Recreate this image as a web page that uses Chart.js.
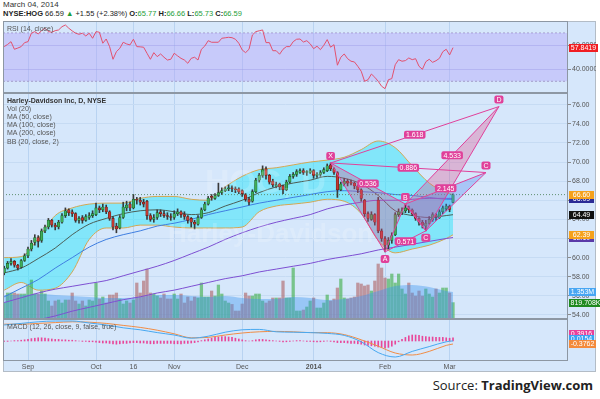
<!DOCTYPE html>
<html>
<head>
<meta charset="utf-8">
<title>HOG daily</title>
<script src="https://cdn.jsdelivr.net/npm/chart.js@4.4.1/dist/chart.umd.min.js"></script>
<style>
  html, body { margin: 0; padding: 0; }
  body { width: 600px; height: 399px; position: relative; overflow: hidden; background: #fff;
         font-family: "Liberation Sans", Arial, sans-serif; }
  .t { position: absolute; white-space: nowrap; line-height: 1; }
  #frame { position: absolute; left: 3px; top: 21px; width: 593px; height: 351px;
           background: #d6e7fb; border: 1px solid #b3bcc6; box-sizing: border-box; }
  canvas { position: absolute; left: 0; }
  .lg { font-size: 7px; color: #555; left: 7px; }
  .wm { color: rgba(255,255,255,0.18); font-weight: bold; }
  .up { color: #1f9e3a; }
</style>
</head>
<body>
<div class="t" style="left:3px;top:1px;font-size:8px;color:#333">March 04, 2014</div>
<div class="t" style="left:3px;top:10px;font-size:7.5px;color:#222"><b>NYSE:HOG</b> 66.59 <span class="up">&#9650;</span> +1.55 (+2.38%) <b>O:</b><span class="up">65.77</span> <b>H:</b><span class="up">66.66</span> <b>L:</b><span class="up">65.73</span> <b>C:</b><span class="up">66.59</span></div>
<div id="frame"></div>
<canvas id="rsi" width="600" height="72" style="top:21px;width:600px;height:72px"></canvas>
<canvas id="price" width="600" height="226" style="top:93px;width:600px;height:226px"></canvas>
<canvas id="macd" width="600" height="53" style="top:319px;width:600px;height:53px"></canvas>
<div class="t wm" style="left:205px;top:164px;font-size:34px">HOG, D</div>
<div class="t wm" style="left:168px;top:220px;font-size:26px">Harley-Davidson</div>
<div class="t lg" style="top:25px">RSI (14, close)</div>
<div class="t lg" style="top:97px;color:#333;font-weight:bold">Harley-Davidson Inc, D, NYSE</div>
<div class="t lg" style="top:105px">Vol (20)</div>
<div class="t lg" style="top:113px">MA (50, close)</div>
<div class="t lg" style="top:121px">MA (100, close)</div>
<div class="t lg" style="top:129px">MA (200, close)</div>
<div class="t lg" style="top:138px">BB (20, close, 2)</div>
<div class="t lg" style="top:323px">MACD (12, 26, close, 9, false, true)</div>
<div class="t" style="right:7px;top:379px;font-size:13px;color:#222;font-family:'Open Sans',sans-serif">Source: <b>TradingView.com</b></div>

<script>
// time axis: x = trading day index, 0 = Aug 22 2013, 132 = Mar 04 2014
const tickIdx  = [7, 27, 38, 50, 70, 91, 112, 131];
const tickText = ['Sep', 'Oct', '16', 'Nov', 'Dec', '2014', 'Feb', 'Mar'];

const openP = [58.4,58.9,59.4,59.6,59.2,59.0,59.7,60.2,60.9,61.6, 62.1,61.8,62.8,63.2,63.9,63.4,63.2,63.7,64.4,65.0,
  64.8,64.6,63.9,64.2,63.9,64.2,64.4,64.5,65.2,65.0, 65.3,64.8,64.1,63.3,63.1,64.2,65.2,65.6,65.2,66.1,
  66.0,65.8,65.9,64.4,64.0,64.2,64.8,64.6,64.4,64.3, 64.2,64.6,64.8,64.5,64.3,64.1,63.7,63.5,64.2,65.0,
  65.6,66.4,66.2,66.5,66.8,67.0,67.2,67.3,67.2,67.2, 67.0,66.6,66.1,65.9,66.9,68.1,68.6,69.3,68.6,68.0,
  67.5,67.7,67.5,67.1,67.9,68.5,68.7,68.9,69.1,68.9, 68.9,69.1,68.6,68.7,68.9,69.1,69.7,69.3,68.9,67.1,
  67.7,68.0,67.9,67.8,67.5,67.1,66.0,64.6,64.0,64.5, 66.0,62.8,62.0,61.3,61.8,62.4,64.5,64.7,64.9,65.2,
  65.0,64.6,64.1,63.7,63.3,63.6,64.0,64.5,64.2,64.8, 65.1,65.4,65.77];
const highP = [59.1,59.6,59.9,59.7,59.3,59.8,60.4,61.1,61.8,62.4, 62.3,63.0,63.4,64.1,64.0,63.6,63.9,64.6,65.2,65.1,
  65.0,64.7,64.3,64.4,64.5,64.7,64.9,65.7,65.4,65.6, 65.5,64.9,64.3,63.6,64.4,65.8,65.9,65.8,66.6,66.3,
  66.3,66.1,66.0,64.6,64.5,65.0,65.0,64.9,64.7,64.6, 64.9,65.1,64.9,64.8,64.4,64.2,63.9,64.4,65.2,65.8,
  66.4,66.6,66.7,67.8,67.3,67.4,67.6,67.5,67.4,67.3, 67.1,66.7,66.3,67.1,68.3,68.8,69.6,69.5,68.7,68.2,
  67.9,67.8,67.6,68.1,68.7,68.9,69.2,69.3,69.3,69.1, 69.3,69.2,68.9,69.1,69.4,69.8,69.9,69.4,69.0,67.9,
  68.3,68.2,68.1,67.9,67.6,67.2,66.1,64.8,64.8,64.6, 66.3,63.0,62.2,62.1,62.6,64.7,65.1,65.2,65.6,65.4,
  65.1,64.7,64.2,63.9,63.9,64.3,64.7,64.6,65.0,65.4, 65.6,65.5,66.66];
const lowP = [58.2,58.8,59.2,59.0,58.7,58.9,59.6,60.0,60.7,61.3, 61.1,61.6,62.6,63.0,63.2,62.9,63.0,63.6,64.2,64.4,
  64.3,63.7,63.6,63.6,63.8,64.0,64.2,64.4,64.7,64.8, 64.6,63.9,62.9,62.6,63.0,64.1,64.9,64.9,65.1,65.6,
  65.5,65.3,64.0,63.8,63.7,64.0,64.3,64.2,64.0,63.9, 64.0,64.4,64.2,64.0,63.6,63.2,63.0,63.4,64.1,64.9,
  65.5,66.0,66.1,66.4,66.6,66.9,67.0,66.9,66.8,66.7, 66.4,65.9,65.5,65.8,66.8,67.9,68.4,68.2,67.7,67.4,
  67.3,67.1,66.7,67.0,67.8,68.3,68.5,68.8,68.7,68.6, 68.8,68.3,68.4,68.5,68.8,69.0,69.1,68.7,66.3,67.0,
  67.5,67.5,67.6,67.2,66.8,65.9,64.3,63.8,63.9,63.4, 62.6,61.7,60.6,60.9,61.5,62.3,64.3,64.5,64.7,64.7,
  64.4,63.9,63.4,63.1,62.8,63.5,63.8,63.9,64.1,64.6, 64.9,64.8,65.73];
const closeP = [58.9,59.4,59.6,59.2,58.9,59.7,60.2,60.9,61.5,62.1, 61.7,62.8,63.2,63.9,63.4,63.2,63.7,64.4,64.9,64.7,
  64.6,63.9,64.1,63.9,64.3,64.4,64.6,65.2,65.0,65.3, 64.8,64.1,63.2,63.0,64.2,65.3,65.5,65.2,66.1,66.0,
  65.8,65.6,64.4,64.0,64.2,64.7,64.6,64.4,64.3,64.2, 64.6,64.8,64.5,64.3,63.9,63.7,63.5,64.2,65.0,65.6,
  66.2,66.3,66.5,66.8,67.0,67.2,67.3,67.2,67.1,66.9, 66.7,66.1,65.8,66.9,68.1,68.6,69.2,68.6,67.9,67.6,
  67.6,67.4,67.1,67.9,68.5,68.7,69.0,69.1,68.9,68.9, 69.1,68.6,68.7,68.9,69.2,69.6,69.3,68.9,67.1,67.7,
  68.0,67.8,67.8,67.5,67.1,66.2,64.6,64.1,64.5,63.7, 62.8,62.0,61.3,61.8,62.3,64.5,64.8,64.9,65.2,65.0,
  64.6,64.1,63.7,63.4,63.6,64.0,64.5,64.2,64.8,65.2, 65.4,65.04,66.59];
// volume, millions of shares
const volM = [0.8,1.3,1.3,1.3,1.25,1.25,1.25,1.65,1.95,1.25, 1.25,1.4,1.25,0.9,0.65,0.9,0.95,0.8,0.95,0.95,
  1.3,0.9,0.75,0.9,0.65,0.95,0.9,1.8,1.0,1.1, 0.8,1.2,1.2,1.3,1.0,0.75,0.9,0.8,0.95,1.8,
  1.3,1.9,2.5,1.3,1.25,1.15,1.05,1.25,1.0,1.0, 1.25,1.0,1.25,0.8,1.1,0.9,1.1,1.05,1.8,1.1,
  1.1,1.4,1.15,1.7,1.25,0.9,0.8,0.73,0.4,0.4, 0.75,1.3,1.15,1.15,1.25,1.25,0.9,0.8,0.9,1.05,
  1.05,1.05,1.9,1.05,1.05,2.55,0.4,0.4,0.45,0.6, 0.9,1.05,0.55,0.55,0.8,1.2,0.9,1.0,1.55,2.0,
  1.05,1.0,1.05,1.1,1.8,1.75,1.65,1.7,1.4,1.9, 2.75,2.55,2.05,2.0,2.25,1.8,2.25,1.5,1.25,1.8,
  1.3,1.15,1.4,1.15,1.5,1.25,1.1,1.5,1.3,1.55, 1.55,1.3,0.82];
const rsiVal = [58.7,60.5,62.8,56.5,57.5,58.7,62.0,62.8,69.8,71.1, 69.2,71.9,73.9,71.1,70.6,71.9,72.5,75.2,76.6,73.9,
  71.7,69.8,68.9,69.8,67.5,69.8,65.6,71.1,70.6,61.5, 65.0,58.7,48.2,54.5,57.3,62.3,60.9,60.1,64.8,58.7,
  58.5,58.2,53.2,48.2,53.7,50.4,52.6,49.9,47.6,48.2, 53.2,51.0,49.0,47.6,44.9,49.0,49.9,47.6,56.5,59.2,
  63.6,62.3,62.3,62.3,65.6,66.0,66.4,66.1,64.8,61.5, 55.9,53.7,56.5,68.3,71.1,71.8,72.5,62.0,62.0,55.3,
  55.3,52.4,56.5,58.7,58.7,62.8,64.8,65.0,62.5,63.6, 61.0,57.0,59.0,56.2,59.8,64.5,58.2,60.3,43.3,49.9,
  52.6,48.7,46.6,46.0,42.4,38.3,30.0,31.3,36.0,33.3, 30.0,25.9,23.9,31.3,32.2,43.7,47.9,46.6,47.1,49.3,
  47.9,48.7,42.4,39.9,46.2,48.2,45.7,47.0,49.0,54.5, 56.5,51.8,57.84];
const macdHist = [-0.05,-0.05,0,0.05,0.05,0.1,0.15,0.2,0.3,0.35, 0.4,0.4,0.35,0.3,0.25,0.2,0.2,0.15,0.15,0.1,
  0.1,0.05,0,-0.05,-0.05,-0.1,-0.1,-0.15,-0.2,-0.25, -0.25,-0.3,-0.35,-0.4,-0.35,-0.3,-0.3,-0.25,-0.2,-0.2,
  -0.25,-0.25,-0.3,-0.35,-0.35,-0.3,-0.3,-0.3,-0.3,-0.3, -0.35,-0.35,-0.35,-0.3,-0.3,-0.25,-0.2,-0.1,0.05,0.15,
  0.25,0.35,0.45,0.5,0.55,0.55,0.5,0.45,0.35,0.25, 0.15,0.05,0,0.05,0.15,0.2,0.2,0.15,0.1,0.05,
  0,-0.05,-0.1,-0.1,-0.05,0,0.05,0.05,0,-0.05, -0.05,-0.1,-0.1,-0.1,-0.05,0,-0.05,-0.1,-0.2,-0.2,
  -0.2,-0.25,-0.3,-0.3,-0.35,-0.4,-0.5,-0.55,-0.6,-0.65, -0.75,-0.8,-0.85,-0.8,-0.65,-0.4,-0.1,0.2,0.45,0.65,
  0.75,0.75,0.7,0.6,0.55,0.5,0.5,0.45,0.45,0.45, 0.4,0.35,0.39];

// indicator lines, sampled every 5 sessions
const smpIdx     = [0,5,10,15,20,25,30,35,40,45,50,55,60,65,70,75,80,85,90,95,100,105,110,115,120,125,130,132];
const maDark     = [58.4,58.9,59.9,61.0,62.4,63.5,64.1,64.6,64.9,65.0,64.8,64.5,64.7,65.4,66.0,66.8,67.4,67.8,68.1,68.5,68.3,67.7,66.5,64.9,64.4,64.2,64.4,64.49];
const maBlue     = [55.9,56.8,57.7,58.9,60.0,61.1,61.9,62.4,62.8,63.3,63.6,64.0,64.5,64.9,65.3,65.7,66.0,66.3,66.6,66.9,67.0,66.9,66.8,66.6,66.5,66.3,66.1,66.09];
const maPurpleA  = [55.3,55.8,56.3,56.7,57.0,57.3,57.6,58.1,58.6,59.1,59.7,60.4,61.1,61.9,62.6,63.2,63.7,64.1,64.5,65.1,65.5,65.8,66.0,66.0,66.1,66.2,66.2,66.2];
const maPurpleB  = [52.7,53.1,53.5,53.9,54.4,54.8,55.2,55.6,55.9,56.3,56.6,57.0,57.4,57.8,58.1,58.5,58.8,59.1,59.4,59.8,60.1,60.4,60.8,61.1,61.4,61.7,62.0,62.1];
const bbUpper    = [60.0,60.1,62.0,64.4,65.2,65.6,65.7,65.7,66.2,66.4,66.4,66.1,66.0,67.4,68.5,69.2,69.4,69.7,70.0,70.2,70.5,71.3,72.2,71.5,69.6,67.8,66.8,66.6];
const bbLower    = [56.6,57.4,56.6,56.8,58.5,61.9,63.1,63.1,63.4,63.4,63.2,63.1,63.1,63.1,63.2,64.8,65.4,65.6,65.8,66.1,65.9,64.6,61.8,60.5,60.9,61.3,62.0,62.39];
const volAvg     = [1.2,1.2,1.25,1.2,1.15,1.1,1.05,1.05,1.1,1.2,1.2,1.15,1.1,1.15,1.05,1.0,1.0,1.1,1.05,0.95,1.0,1.15,1.4,1.65,1.7,1.6,1.4,1.353];
const macdLine   = [2.0,2.2,2.4,2.5,2.5,2.25,2.0,1.65,1.4,1.05,0.75,0.35,0.6,1.1,1.4,1.45,1.15,1.1,1.05,0.95,0.7,-0.1,-1.45,-2.0,-1.3,-0.7,-0.1,0.0154];
const macdSignal = [2.1,2.1,2.2,2.3,2.4,2.35,2.2,1.95,1.7,1.35,0.9,0.4,0.45,0.75,1.0,1.15,1.2,1.15,1.05,1.04,0.8,0.15,-0.65,-1.5,-1.75,-1.3,-0.55,-0.3762];

const priceTicks = [54,56,58,60,62,64,66,68,70,72,74,76];
const rsiTicks = [40, 60];
const rsiBand = [30, 70];
const lastClose = 66.59;

// harmonic pattern drawn on the chart
const patIdx   = [96, 112, 118, 124, 145.5, 141.7];
const patPrice = [69.9, 60.6, 65.6, 62.8, 75.8, 68.9];
const patName  = ['X', 'A', 'B', 'C', 'D', 'C'];
const patAbove = [true, false, true, false, true, true];
const ratioPairs = [[0,2],[1,3],[2,4],[0,4],[0,5],[2,5]];
const ratioText  = ['0.536','0.571','4.533','1.618','0.886','2.145'];
const triangles  = [[0,1,2],[2,3,4],[2,3,5]];
const extraLines = [[1,3],[0,4],[0,5]];

// right-hand value tags
const rsiTagVal = [57.8419], rsiTagText = ['57.8419'], rsiTagBg = ['#f01e23'];
const priceTagVal = [66.09, 66.60, 62.1, 62.39, 64.49];
const priceTagText = ['66.09', '66.60', '62.10', '62.39', '64.49'];
const priceTagBg = ['#2b2b95', '#f5a11c', '#5a3aa8', '#f5a11c', '#111111'];
const volTagVal = [1.353, 0.819708], volTagText = ['1.353M', '819.708K'], volTagBg = ['#48a6f2', '#1f8a1f'];
const macdTagVal = [0.3916, 0.0154, -0.3762], macdTagText = ['0.3916', '0.0154', '-0.3762'];
const macdTagBg = ['#e8409a', '#3aa2f2', '#f38a3c'];

const X_MIN = -0.353, X_MAX = 165.82;
const FONT = '"Liberation Sans", Arial, sans-serif';
const PINK = '#e0409a';

const days = closeP.map((c, i) => i);
const upDay = days.map(i => closeP[i] >= openP[i]);
const pts = (xs, ys) => xs.map((v, k) => ({ x: v, y: ys[k] }));
const flat = v => [{ x: X_MIN, y: v }, { x: X_MAX, y: v }];

function xScale(withLabels) {
    return {
        type: 'linear', min: X_MIN, max: X_MAX, offset: false, position: 'bottom',
        afterBuildTicks: s => { s.ticks = tickIdx.map(v => ({ value: v })); },
        afterFit: s => { s.height = withLabels ? 11 : 0; s.paddingLeft = 0; s.paddingRight = 0; },
        ticks: {
            display: withLabels, autoSkip: false, maxRotation: 0, padding: 2, color: '#555',
            font: c => ({ family: FONT, size: 7, weight: (c.tick && c.tick.value === 91) ? 'bold' : 'normal' }),
            callback: (v, i) => tickText[i]
        },
        grid: { color: '#b9d3f1', drawTicks: false, offset: false },
        border: { display: false }
    };
}

function yScale(min, max, ticks, fmt, gridColor) {
    return {
        type: 'linear', position: 'right', min: min, max: max,
        afterBuildTicks: s => { s.ticks = ticks.map(v => ({ value: v })); },
        afterFit: s => { s.width = 28; s.paddingTop = 0; s.paddingBottom = 0; },
        ticks: { display: ticks.length > 0, color: '#555', padding: 1, font: { family: FONT, size: 7 }, callback: fmt },
        grid: { display: ticks.length > 0, color: gridColor, tickColor: '#8a8a8a', tickLength: 3 },
        border: { display: false }
    };
}

const paneFrame = {
    id: 'paneFrame',
    afterDraw(chart) {
        const { ctx, chartArea: a } = chart;
        ctx.save();
        ctx.strokeStyle = '#8d97a3';
        ctx.lineWidth = 1;
        ctx.strokeRect(a.left + 0.5, a.top + 0.5, a.right - a.left - 1, a.bottom - a.top - 1);
        ctx.restore();
    }
};

function tagsPlugin(groups) {
    return {
        id: 'tags',
        afterDraw(chart) {
            const ctx = chart.ctx, x0 = chart.chartArea.right + 1;
            ctx.save();
            ctx.font = '7px ' + FONT;
            ctx.textAlign = 'center';
            ctx.textBaseline = 'middle';
            groups.forEach(g => {
                const sc = chart.scales[g.axis];
                const ys = g.vals.map(v => sc.getPixelForValue(v));
                if (g.gap) {
                    const low = ys.map((y, i) => i).sort((a, b) => ys[b] - ys[a]);
                    let prev = Infinity;
                    low.forEach(i => { ys[i] = Math.min(ys[i], prev - g.gap); prev = ys[i]; });
                }
                g.vals.forEach((v, i) => {
                    const y = Math.round(ys[i]);
                    const w = Math.max(25, Math.ceil(ctx.measureText(g.text[i]).width) + 3);
                    ctx.fillStyle = g.bg[i];
                    ctx.fillRect(x0, y - 4, w, 8);
                    ctx.fillStyle = '#fff';
                    ctx.fillText(g.text[i], x0 + w / 2, y + 0.5);
                });
            });
            ctx.restore();
        }
    };
}

const patternLabels = {
    id: 'patternLabels',
    afterDatasetsDraw(chart) {
        const { ctx, scales } = chart;
        const px = i => scales.x.getPixelForValue(patIdx[i]);
        const py = i => scales.y.getPixelForValue(patPrice[i]);
        ctx.save();
        ctx.font = '7px ' + FONT;
        ctx.textAlign = 'center';
        ctx.textBaseline = 'middle';
        const box = (cx, cy, text) => {
            const w = ctx.measureText(text).width + 4;
            ctx.fillStyle = PINK;
            ctx.beginPath();
            ctx.roundRect(cx - w / 2, cy - 4, w, 8, 2);
            ctx.fill();
            ctx.fillStyle = '#fff';
            ctx.fillText(text, cx, cy + 0.5);
        };
        ratioPairs.forEach((p, k) => box((px(p[0]) + px(p[1])) / 2, (py(p[0]) + py(p[1])) / 2, ratioText[k]));
        patName.forEach((n, i) => box(px(i), py(i) + (patAbove[i] ? -7 : 7), n));
        ctx.restore();
    }
};

const baseOpts = {
    responsive: false, animation: false, events: [],
    layout: { padding: { left: 3, right: 4, top: 0, bottom: 0 } },
    plugins: { legend: { display: false }, tooltip: { enabled: false } }
};

// ---- RSI pane ----
new Chart(document.getElementById('rsi'), {
    type: 'line',
    data: {
        datasets: [
            { data: flat(rsiBand[1]), borderColor: '#a39cc9', borderWidth: 1, borderDash: [2, 2], pointRadius: 0, order: 3 },
            { data: flat(rsiBand[0]), borderColor: '#a39cc9', borderWidth: 1, borderDash: [2, 2], pointRadius: 0,
              fill: '-1', backgroundColor: 'rgba(179,161,248,0.42)', order: 2 },
            { data: pts(days, rsiVal), borderColor: '#e2506e', borderWidth: 1, pointRadius: 0, order: 1 }
        ]
    },
    options: Object.assign({}, baseOpts, {
        scales: { x: xScale(false), y: yScale(20.3, 79.9, rsiTicks, v => v.toFixed(4), 'rgba(140,150,220,0.45)') }
    }),
    plugins: [paneFrame, tagsPlugin([{ axis: 'y', vals: rsiTagVal, text: rsiTagText, bg: rsiTagBg }])]
});

// ---- price pane ----
const priceScales = {
    x: xScale(false),
    y: yScale(53.58, 77.22, priceTicks, v => v.toFixed(2), '#c6dbf3'),
    yv: { type: 'linear', display: false, min: 0, max: 11.3 }
};
const lineDs = (xs, ys, color, extra) => Object.assign({
    type: 'line', data: pts(xs, ys), borderColor: color, borderWidth: 1, pointRadius: 0,
    cubicInterpolationMode: 'monotone'
}, extra);

const priceSets = [
    lineDs(smpIdx, bbUpper, '#d3a752', { order: 20 }),
    lineDs(smpIdx, bbLower, '#d3a752', { order: 20, fill: '-1', backgroundColor: 'rgba(46,229,249,0.5)' }),
    { type: 'bar', yAxisID: 'yv', data: pts(days, volM), grouped: false, barThickness: 2.6,
      backgroundColor: days.map(i => upDay[i] ? 'rgba(57,171,66,0.6)' : 'rgba(174,96,99,0.6)'), order: 19 },
    lineDs(smpIdx, volAvg, 'rgba(60,150,240,0)', { yAxisID: 'yv', fill: 'origin', backgroundColor: 'rgba(60,150,240,0.4)', borderWidth: 0, order: 18 }),
    lineDs(smpIdx, maPurpleB, '#7d4fd2', { order: 15 }),
    lineDs(smpIdx, maPurpleA, '#7d4fd2', { order: 15 }),
    lineDs(smpIdx, maBlue, '#3f7ee0', { order: 15 }),
    lineDs(smpIdx, maDark, '#4b5d55', { order: 15 }),
    { type: 'bar', data: days.map(i => ({ x: i, y: [lowP[i], highP[i]] })), grouped: false, barThickness: 1,
      backgroundColor: '#3a3a3a', order: 12 },
    { type: 'bar', data: days.map(i => ({ x: i, y: [openP[i], closeP[i]] })), grouped: false, barThickness: 2.6,
      minBarLength: 1, borderSkipped: false, borderWidth: 0.6,
      backgroundColor: days.map(i => upDay[i] ? '#3fae58' : '#c0392f'),
      borderColor: days.map(i => upDay[i] ? '#1d5e2c' : '#6b1d17'), order: 11 },
    { type: 'line', data: flat(lastClose), borderColor: '#5f8f70', borderWidth: 1, borderDash: [1, 2], pointRadius: 0, order: 10 }
];
const triFill = ['rgba(225,80,140,0.33)', 'rgba(225,80,140,0.33)', 'rgba(80,130,240,0.33)'];
triangles.forEach((t, k) => priceSets.push({
    type: 'line', data: t.concat([t[0]]).map(i => ({ x: patIdx[i], y: patPrice[i] })),
    fill: 'shape', backgroundColor: triFill[k], borderColor: PINK, borderWidth: 1, pointRadius: 0, order: 5
}));
extraLines.forEach(p => priceSets.push({
    type: 'line', data: p.map(i => ({ x: patIdx[i], y: patPrice[i] })),
    borderColor: PINK, borderWidth: 1, pointRadius: 0, order: 4
}));

new Chart(document.getElementById('price'), {
    type: 'line',
    data: { datasets: priceSets },
    options: Object.assign({}, baseOpts, { scales: priceScales }),
    plugins: [paneFrame, patternLabels, tagsPlugin([
        { axis: 'y', vals: priceTagVal, text: priceTagText, bg: priceTagBg },
        { axis: 'yv', vals: volTagVal, text: volTagText, bg: volTagBg }
    ])]
});

// ---- MACD pane ----
new Chart(document.getElementById('macd'), {
    type: 'line',
    data: {
        datasets: [
            { type: 'bar', data: pts(days, macdHist), grouped: false, barThickness: 1, backgroundColor: '#e8489a', order: 3 },
            lineDs(smpIdx, macdSignal, '#f08c45', { order: 2 }),
            lineDs(smpIdx, macdLine, '#48a8f0', { order: 1 })
        ]
    },
    options: Object.assign({}, baseOpts, {
        scales: { x: xScale(true), y: yScale(-2.5, 2.75, [], v => '', '#c6dbf3') }
    }),
    plugins: [paneFrame, tagsPlugin([{ axis: 'y', vals: macdTagVal, text: macdTagText, bg: macdTagBg, gap: 5 }])]
});
</script>
</body>
</html>
